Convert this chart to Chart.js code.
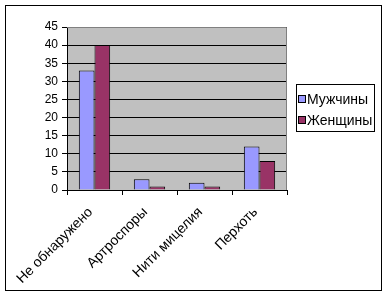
<!DOCTYPE html>
<html>
<head>
<meta charset="utf-8">
<script src="https://cdn.jsdelivr.net/npm/chart.js@4/dist/chart.umd.min.js"></script>
<style>
  html, body { margin: 0; padding: 0; background: #fff; }
  #wrap { width: 388px; height: 297px; }
</style>
</head>
<body>
<div id="wrap"><canvas id="chart" width="388" height="297"></canvas></div>
<script>
const categories = ['Не обнаружено', 'Артроспоры', 'Нити мицелия', 'Перхоть'];
const men = [33, 3, 2, 12];
const women = [40, 1, 1, 8];
const yTicks = [0, 5, 10, 15, 20, 25, 30, 35, 40, 45];

const FAMILY = "'Liberation Sans', Arial, sans-serif";

// grey plot area, grey top/right edge, outer frame and the boxed legend
const frame = {
    id: 'frame',
    beforeDraw(chart) {
        const c = chart.ctx, a = chart.chartArea;
        c.save();
        c.fillStyle = '#fff';
        c.fillRect(0, 0, chart.width, chart.height);
        c.fillStyle = '#C0C0C0';
        c.fillRect(a.left, a.top, a.right - a.left, a.bottom - a.top);
        c.restore();
    },
    afterDraw(chart) {
        const c = chart.ctx, a = chart.chartArea;
        c.save();
        c.lineWidth = 1;
        c.strokeStyle = '#808080';
        c.beginPath();
        c.moveTo(a.left, a.top + 0.5);
        c.lineTo(a.right - 0.5, a.top + 0.5);
        c.lineTo(a.right - 0.5, a.bottom);
        c.stroke();
        c.strokeStyle = '#000';
        c.strokeRect(5.5, 5.5, 376, 285);

        // legend
        c.strokeRect(296.5, 84.5, 78, 47);
        c.font = '14px ' + FAMILY;
        c.textBaseline = 'middle';
        chart.data.datasets.forEach((ds, i) => {
            const y = 99 + i * 21;
            c.fillStyle = ds.backgroundColor;
            c.fillRect(299, y - 3, 6, 6);
            c.strokeStyle = '#000';
            c.strokeRect(298.5, y - 3.5, 7, 7);
            c.fillStyle = '#000';
            c.fillText(ds.label, 307, y + 1);
        });
        c.restore();
    }
};

new Chart(document.getElementById('chart'), {
    type: 'bar',
    data: {
        labels: categories,
        datasets: [
            { label: 'Мужчины', data: men, backgroundColor: '#9999FF', borderColor: '#000', borderWidth: 1 },
            { label: 'Женщины', data: women, backgroundColor: '#993366', borderColor: '#000', borderWidth: 1 }
        ]
    },
    options: {
        responsive: false,
        animation: false,
        layout: { padding: { left: 0, top: 27, right: 101, bottom: 0 } },
        datasets: { bar: { categoryPercentage: 0.57, barPercentage: 1 } },
        scales: {
            x: {
                grid: { drawOnChartArea: false, drawTicks: true, tickLength: 5, color: '#000', offset: true },
                border: { color: '#000' },
                ticks: { color: '#000', font: { family: FAMILY, size: 14 }, minRotation: 45, maxRotation: 45, padding: 9, labelOffset: -4 },
                afterFit(s) { s.height = 107; }
            },
            y: {
                min: 0, max: 45,
                afterBuildTicks(s) { s.ticks = yTicks.map(v => ({ value: v })); },
                grid: { color: '#000', tickLength: 5 },
                border: { color: '#000' },
                ticks: { color: '#000', font: { family: FAMILY, size: 12 }, padding: 4 },
                afterFit(s) { s.width = 67; }
            }
        },
        plugins: {
            legend: { display: false },
            tooltip: { enabled: false }
        }
    },
    plugins: [frame]
});
</script>
</body>
</html>
